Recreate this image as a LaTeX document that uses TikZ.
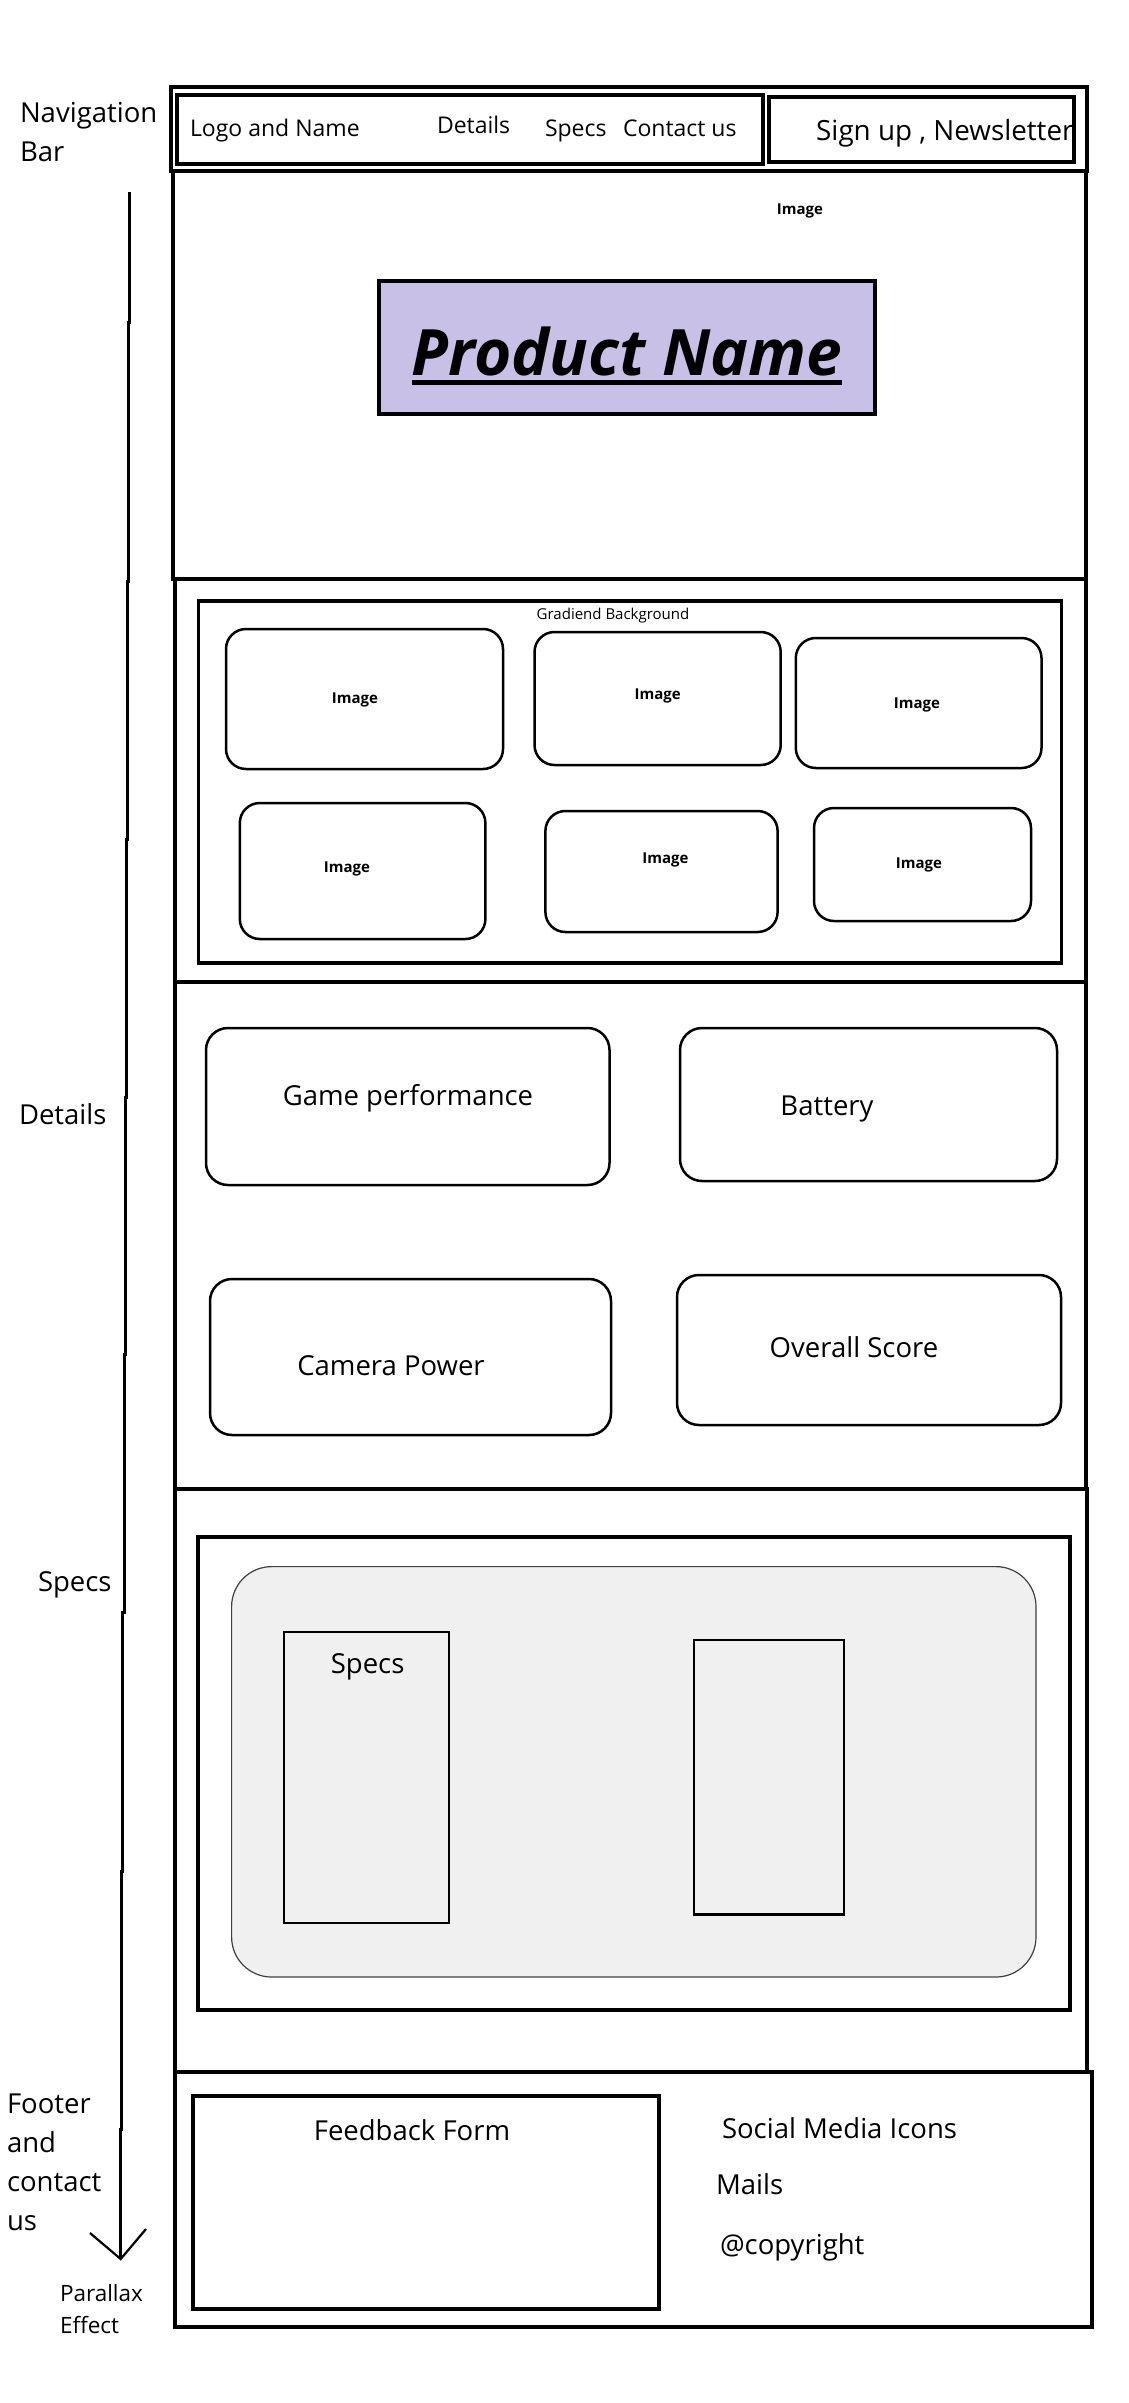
\documentclass[tikz,border=0pt]{standalone}
\usepackage{fontspec}
\setmainfont{Open Sans}
\definecolor{lavender}{HTML}{C8C0E6}
\definecolor{panelgray}{HTML}{F0F0F0}
\begin{document}
\begin{tikzpicture}[x=1pt,y=-1pt,
  box/.style={draw=black,line width=3.2pt},
  inbox/.style={draw=black,line width=2.6pt},
  rbox/.style={draw=black,line width=2.5pt,rounded corners=20pt},
  txt/.style={inner sep=0pt,outer sep=0pt,font=\fontsize{27.5}{33}\selectfont},
  navtxt/.style={inner sep=0pt,outer sep=0pt,font=\fontsize{23}{28}\selectfont},
  imgtxt/.style={inner sep=0pt,outer sep=0pt,font=\fontsize{15}{18}\selectfont\bfseries},
  smalltxt/.style={inner sep=0pt,outer sep=0pt,font=\fontsize{22.5}{27}\selectfont},
]
\useasboundingbox[fill=white] (0,0) rectangle (1128,2403);

% ---------- Navigation bar ----------
\draw[box] (171,87) rectangle (1087,171);
\draw[box] (177,95) rectangle (763,164);
\begin{scope}
  \clip (770,97) rectangle (1074,162);
  \node[inner sep=0pt,font=\fontsize{27.8}{33}\selectfont,anchor=base west] (signup) at (816,141) {Sign up , Newsletter};
\end{scope}
\draw[box] (769,97) rectangle (1074,162);
\node[navtxt,anchor=base west] (logo) at (190,137) {Logo and Name};
\node[navtxt,anchor=base west] (navdet) at (437,134) {Details};
\node[navtxt,anchor=base west] (navspecs) at (545,136) {Specs};
\node[navtxt,anchor=base west] (navcont) at (623,136.5) {Contact us};
\node[txt,anchor=base west] (navlbl1) at (20,123) {Navigation};
\node[txt,anchor=base west] (navlbl2) at (20,161) {Bar};

% ---------- Hero ----------
\draw[box] (173,171) rectangle (1086,579);
\node[imgtxt,anchor=base] (heroimg) at (800,214) {Image};
\draw[box,fill=lavender] (379,281) rectangle (875,414);
\node[inner sep=0pt,outer sep=0pt,anchor=base,font=\fontsize{64}{70}\selectfont\bfseries\itshape] (pname) at (627,375) {Product Name};
\draw[line width=5pt] ([yshift=-7.5pt]pname.base west) -- ([yshift=-7.5pt]pname.base east);

% ---------- Gallery ----------
\draw[box] (175,579) rectangle (1086,982);
\draw[box] (198.5,601) rectangle (1061.5,963);
\node[inner sep=0pt,anchor=base,font=\fontsize{15}{18}\selectfont] (grad) at (613,619) {Gradiend Background};
\draw[rbox] (226,629) rectangle (503,769);
\draw[rbox] (534.5,632) rectangle (780.7,765);
\draw[rbox] (795.8,638) rectangle (1041.5,768);
\draw[rbox] (239.8,803) rectangle (485.4,939);
\draw[rbox] (545.4,811) rectangle (777.6,932);
\draw[rbox] (814,808) rectangle (1031,921);
\node[imgtxt,anchor=base] (img1) at (355,703) {Image};
\node[imgtxt,anchor=base] (img2) at (657.6,699) {Image};
\node[imgtxt,anchor=base] (img3) at (917,708) {Image};
\node[imgtxt,anchor=base] (img4) at (347,872) {Image};
\node[imgtxt,anchor=base] (img5) at (665.5,863) {Image};
\node[imgtxt,anchor=base] (img6) at (919,868) {Image};

% ---------- Details ----------
\draw[box] (175,982) rectangle (1086,1489);
\draw[rbox,rounded corners=22pt] (206,1028) rectangle (609.5,1185);
\draw[rbox,rounded corners=22pt] (680,1028) rectangle (1057,1181);
\draw[rbox,rounded corners=22pt] (210,1279) rectangle (611,1435);
\draw[rbox,rounded corners=22pt] (677,1275) rectangle (1061,1425);
\node[txt,anchor=base] (game) at (408,1105) {Game performance};
\node[txt,anchor=base] (batt) at (827,1115) {Battery};
\node[txt,anchor=base] (cam) at (391,1375) {Camera Power};
\node[txt,anchor=base] (overall) at (854,1357) {Overall Score};

% ---------- Specs ----------
\draw[box] (175,1489) rectangle (1087,2072);
\draw[box] (198,1537) rectangle (1070,2010);
\draw[draw=black!75,line width=1.2pt,fill=panelgray,rounded corners=40pt] (231.6,1566.6) rectangle (1036,1977);
\draw[inbox] (284,1632) rectangle (449,1923);
\node[txt,anchor=base] (specstxt) at (367.6,1673) {Specs};
\draw[inbox] (694,1640) rectangle (844,1914.5);

% ---------- Footer ----------
\draw[box] (175,2072) rectangle (1092,2327);
\draw[box] (193,2096) rectangle (659,2309);
\node[txt,anchor=base] (feedback) at (412,2140) {Feedback Form};
\node[txt,anchor=base west] (social) at (722,2138) {Social Media Icons};
\node[txt,anchor=base west] (mails) at (716,2194) {Mails};
\node[txt,anchor=base west] (copy) at (720,2254) {@copyright};

% ---------- Left labels ----------
\node[txt,anchor=base west] (detlbl) at (19,1124) {Details};
\node[txt,anchor=base west] (speclbl) at (38,1591) {Specs};
\node[txt,anchor=base west] (foot1) at (7,2113) {Footer};
\node[txt,anchor=base west] (foot2) at (7,2152) {and};
\node[txt,anchor=base west] (foot3) at (7,2191) {contact};
\node[txt,anchor=base west] (foot4) at (7,2230) {us};
\node[smalltxt,anchor=base west] (par1) at (60,2301) {Parallax};
\node[smalltxt,anchor=base west] (par2) at (60,2333) {Effect};

% ---------- Hand-drawn scroll line with arrow ----------
\coordinate (tip) at (120.7,2259);
\draw[line width=3pt]
  (129.3,192) -- (129.3,322.6) -- (128,322.6) -- (128,581) -- (127,581) -- (127,839)
  -- (126,839) -- (126,1097.5) -- (125,1097.5) -- (125,1354) -- (124,1354) -- (124,1612)
  -- (122.7,1612) -- (122.7,1871) -- (121.7,1871) -- (121.7,2129) -- (120.7,2129) -- (tip);
\coordinate (armL) at (90,2233);
\coordinate (armR) at (146,2229);
\draw[line width=2.2pt] (armL) -- (tip) -- (armR);
\end{tikzpicture}
\end{document}
